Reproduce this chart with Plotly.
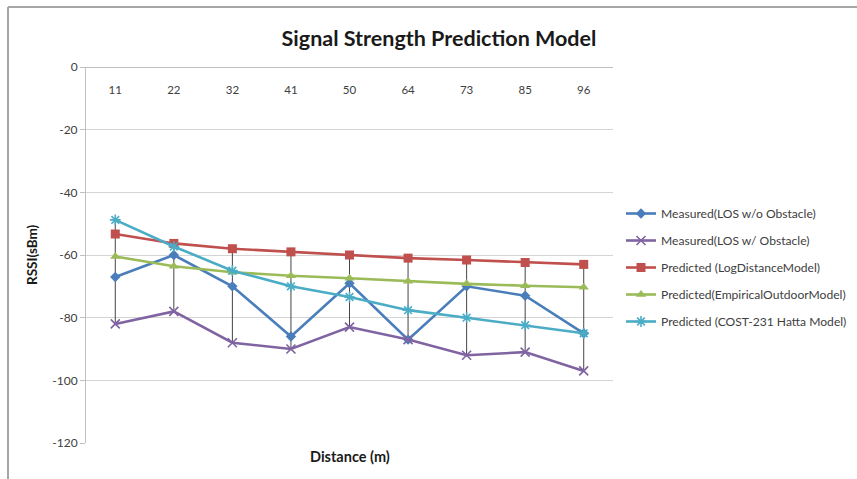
import plotly.graph_objects as go

# Distance categories (m)
distances = ["11", "22", "32", "41", "50", "64", "73", "85", "96"]

# RSSI readings / model predictions (dBm)
measured_los_no_obstacle = [-67, -60, -70, -86, -69, -87, -70, -73, -85]
measured_los_obstacle = [-82, -78, -88, -90, -83, -87, -92, -91, -97]
predicted_log_distance = [-53.3, -56.3, -58, -59, -60, -61, -61.6, -62.4, -63]
predicted_empirical_outdoor = [-60.5, -63.6, -65.5, -66.6, -67.4, -68.4, -69.2, -69.8, -70.3]
predicted_cost231_hatta = [-48.8, -57.3, -65, -70, -73.4, -77.6, -80, -82.4, -85]

# RSSI axis ticks
rssi_ticks = [0, -20, -40, -60, -80, -100, -120]
rssi_tick_text = ["0", "-20", "-40", "-60", "-80", "-100", "-120"]

series = [
    ("Measured(LOS w/o Obstacle)", measured_los_no_obstacle, "#4A7EBB", "diamond", 8, 0),
    ("Measured(LOS w/ Obstacle)", measured_los_obstacle, "#8064A2", "x-thin-open", 9, 1.6),
    ("Predicted (LogDistanceModel)", predicted_log_distance, "#C0504D", "square", 9, 0),
    ("Predicted(EmpiricalOutdoorModel)", predicted_empirical_outdoor, "#9BBB59", "triangle-up", 9, 0),
    ("Predicted (COST-231 Hatta Model)", predicted_cost231_hatta, "#4BACC6", "asterisk-open", 9, 1.6),
]

fig = go.Figure()

# High-low lines spanning all series at each distance
hl_x, hl_y = [], []
for i, d in enumerate(distances):
    vals = [s[1][i] for s in series]
    hl_x += [d, d, None]
    hl_y += [max(vals), min(vals), None]
fig.add_trace(go.Scatter(x=hl_x, y=hl_y, mode="lines",
                         line=dict(color="#303030", width=0.9),
                         showlegend=False, hoverinfo="skip"))

for k, (name, vals, color, sym, size, lw) in enumerate(series):
    marker = dict(symbol=sym, size=size, color=color)
    if lw:
        marker["line"] = dict(color=color, width=lw)
    fig.add_trace(go.Scatter(x=distances, y=vals, name=name, mode="lines+markers",
                             line=dict(color=color, width=2.6), marker=marker,
                             legendgroup=f"g{k}"))

W, H = 857, 479
L, R, T, B = 86, 244, 67, 36
pw, ph = W - L - R, H - T - B

fig.update_layout(
    width=W, height=H,
    margin=dict(l=L, r=R, t=T, b=B, autoexpand=False),
    paper_bgcolor="white", plot_bgcolor="white",
    font=dict(family="Lato, Carlito, sans-serif", color="#404040"),
    title=dict(text="<b>Signal Strength Prediction Model</b>",
               font=dict(size=21.5, color="#1a1a1a"),
               x=439 / W, xanchor="center", y=1 - 38 / H, yanchor="middle"),
    # category axis drawn along RSSI = 0 with its labels hanging below the line
    xaxis=dict(type="category", categoryorder="array", categoryarray=distances,
               side="bottom", anchor="free", position=1.0,
               ticks="outside", ticklen=12, tickcolor="rgba(0,0,0,0)",
               showline=True, linecolor="#c0c0c0", linewidth=1,
               showgrid=False, tickfont=dict(size=11.5, color="#404040"),
               range=[-0.5, len(distances) - 0.5]),
    yaxis=dict(range=[-120, 0], tickmode="array", tickvals=rssi_ticks,
               ticktext=rssi_tick_text, showgrid=True, gridcolor="#d4d4d4",
               gridwidth=1, zeroline=False, showline=True, linecolor="#c0c0c0",
               linewidth=1, ticks="outside", ticklen=5, tickcolor="#c0c0c0",
               tickfont=dict(size=12, color="#404040")),
    legend=dict(x=(621 - L) / pw, xanchor="left", y=(H - B - 199) / ph, yanchor="top",
                font=dict(size=12.1, color="#404040"), tracegroupgap=8,
                itemwidth=30, bgcolor="rgba(0,0,0,0)"),
    showlegend=True,
)

fig.add_annotation(text="<b>RSSI(sBm)</b>", xref="paper", yref="paper",
                   x=(32 - L) / pw, y=0.5, xanchor="center", yanchor="middle",
                   textangle=-90, showarrow=False,
                   font=dict(size=13.5, color="#1a1a1a"))
fig.add_annotation(text="<b>Distance (m)</b>", xref="paper", yref="paper",
                   x=0.5, y=-(457 - (H - B)) / ph, xanchor="center", yanchor="middle",
                   showarrow=False, font=dict(size=14.5, color="#1a1a1a"))

# Outer chart border (top and left edges visible)
fig.add_shape(type="line", xref="paper", yref="paper",
              x0=(8 - L) / pw, x1=(W + 10 - L) / pw,
              y0=(H - B - 7) / ph, y1=(H - B - 7) / ph,
              line=dict(color="#a6a6a6", width=2))
fig.add_shape(type="line", xref="paper", yref="paper",
              x0=(8 - L) / pw, x1=(8 - L) / pw,
              y0=(H - B - 7) / ph, y1=-(B + 10) / ph,
              line=dict(color="#a6a6a6", width=2))

fig.write_html("out.html")
